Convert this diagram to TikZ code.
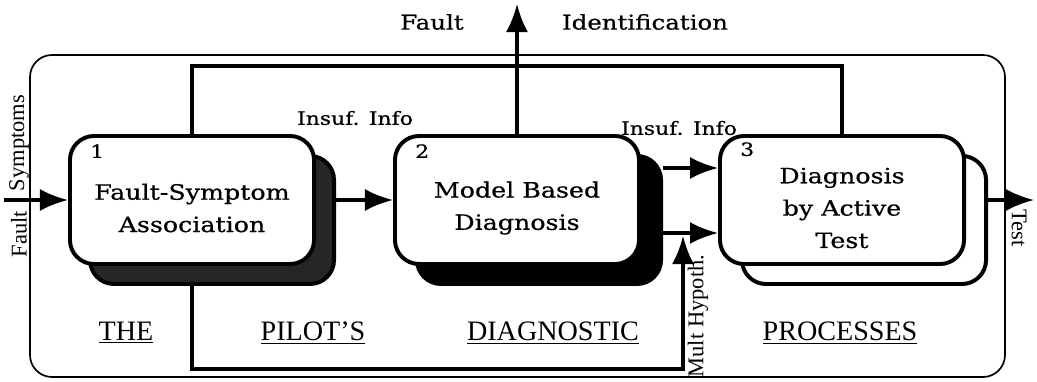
\documentclass[tikz,border=0pt]{standalone}
\usepackage{fontspec}
\setmainfont{Liberation Serif}
\newfontfamily\boxfont[FakeStretch=1.2, FakeBold=0.6]{DejaVu Serif}
\usetikzlibrary{arrows.meta}

\begin{document}
\begin{tikzpicture}[x=0.025cm, y=-0.025cm]
	\useasboundingbox (0,0) rectangle (1037,381);
	\tikzstyle{block} = [
		rectangle, rounded corners=0.6cm, draw=black, fill=white, line width=2.8pt,
		minimum width=6.1cm, minimum height=3.2cm
	]
	\tikzstyle{blocktext} = [
		align=center, font=\boxfont\fontsize{15}{23}\selectfont
	]
	\tikzstyle{number} = [
		below right, inner sep=0pt, font=\boxfont\fontsize{13}{13}\selectfont
	]
	\tikzstyle{note} = [
		font=\boxfont\fontsize{13}{13}\selectfont
	]
	\tikzstyle{title} = [
		font=\boxfont\fontsize{14.5}{14.5}\selectfont
	]
	\tikzstyle{side} = [
		font=\rmfamily\fontsize{16}{16}\selectfont
	]
	\tikzstyle{stage} = [
		font=\rmfamily\fontsize{20}{20}\selectfont
	]
	\tikzstyle{line} = [
		line width=2.3pt
	]
	\tikzstyle{conn} = [
		line, -{Latex[length=0.7cm, width=0.55cm]}
	]

	% Frame
	\draw[line width=1.2pt, rounded corners=0.55cm] (30,55) rectangle (1005,377);

	% Box 1
	\node (box1_shadow) [block, fill=black!85] at (212,220) {};
	\node (box1) [block] at (192,200) {}
		node (box1_num) [number] at ([shift={(22,10)}]box1.north west) {1}
	;
	\node (box1_text) [blocktext] at ([yshift=-0.2cm]box1.center) {Fault-Symptom\\Association};

	% Box 2
	\node (box2_shadow) [block, fill=black] at (539,220) {};
	\node (box2) [block] at (517,200) {}
		node (box2_num) [number] at ([shift={(22,10)}]box2.north west) {2}
	;
	\node (box2_text) [blocktext] at ([yshift=-0.2cm]box2.center) {Model Based\\Diagnosis};

	% Box 3
	\node (box3_copy) [block] at (864,220) {};
	\node (box3) [block] at (842,200) {}
		node (box3_num) [number] at ([shift={(22,8)}]box3.north west) {3}
		coordinate [yshift=0.8cm] (box3_in_top) at (box3.west)
		coordinate [yshift=-0.825cm] (box3_in_bottom) at (box3.west)
	;
	\node (box3_text) [blocktext] at ([yshift=-0.2cm]box3.center) {Diagnosis\\by Active\\Test};

	% Free ends
	\coordinate (input) at (4,200);
	\coordinate (fault_id) at (517,4);
	\coordinate (test) at (1034,200);
	\coordinate (mult_tip) at (683,236);

	% Labels
	\node (fault_lbl) [title] at (432,22) {Fault};
	\node (ident_lbl) [title] at (645,22) {Identification};
	\node (insuf1) [note] at (355,118) {Insuf. Info};
	\node (insuf2) [note] at (679,128) {Insuf. Info};
	\node (symptoms) [side, rotate=90] at (19,143) {Symptoms};
	\node (fault_in) [side, rotate=90] at (19,234) {Fault};
	\node (mult) [side, rotate=90] at (698,316) {Mult Hypoth.};
	\node (test_lbl) [side, rotate=-90] at (1019,228) {Test};

	% Stages
	\node (the) [stage] at (126,333) {\underline{THE}};
	\node (pilots) [stage] at (313,333) {\underline{PILOT'S}};
	\node (diag) [stage] at (553,333) {\underline{DIAGNOSTIC}};
	\node (proc) [stage] at (840,333) {\underline{PROCESSES}};

	% Connections
	\draw[conn] (input) -- (box1.west);
	\draw[conn] (box1_shadow.east |- box1.east) -- (box2.west);
	\draw[conn] (box2_shadow.east |- box3_in_top) -- (box3_in_top);
	\draw[conn] (box2_shadow.east |- box3_in_bottom) -- (box3_in_bottom);
	\draw[conn] (box3_copy.east |- box3.east) -- (test);
	\draw[conn] (box2.north) -- (fault_id);
	\draw[line] (box1.north) -- ++(0,-68) -| (box3.north);
	\draw[conn] (box1.south |- box1_shadow.south) -- ++(0,83) -| (mult_tip);

\end{tikzpicture}
\end{document}
